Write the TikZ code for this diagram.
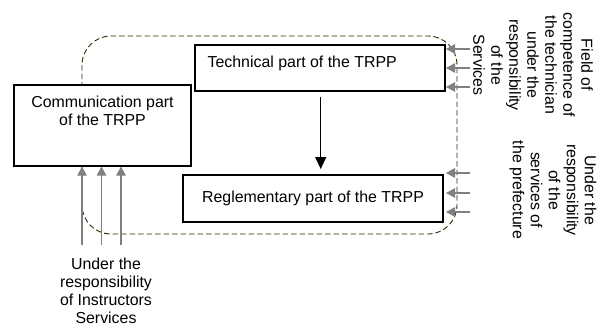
\documentclass[tikz,border=0pt]{standalone}
\usepackage{fontspec}
\setmainfont{Liberation Sans}
\usetikzlibrary{arrows.meta}
\definecolor{dashol}{RGB}{45,45,0}
\definecolor{arrgray}{RGB}{128,128,128}
\tikzset{
  partbox/.style={draw=black, line width=1.1pt, fill=white, inner sep=0pt},
  txt/.style={inner sep=0pt, align=center, font=\fontsize{15.9}{18}\selectfont},
  grayarrow/.style={draw=arrgray, line width=1.1pt, -{Triangle[length=9pt,width=9.5pt]}},
  blackarrow/.style={draw=black, line width=1.3pt, -{Triangle[length=12pt,width=11pt]}},
  envelope/.style={draw=dashol, line width=0.9pt, dash pattern=on 5.5pt off 3pt, rounded corners=29pt}
}
\begin{document}
\begin{tikzpicture}[x=1pt,y=-1pt]
\useasboundingbox (0,0) rectangle (605,327);
% dashed envelope
\draw[envelope] (82,36) rectangle (457,234);
% boxes
\node[partbox, minimum width=177pt, minimum height=81pt] (comm) at (102.5,125.5) {};
\node[txt, anchor=north] (commtxt) at ([yshift=-11pt]comm.north) {Communication part\\of the TRPP};
\node[partbox, minimum width=250pt, minimum height=46pt] (tech) at (320,68) {};
\node[txt, anchor=north west] (techtxt) at ([xshift=13pt,yshift=-11pt]tech.north west) {Technical part of the TRPP};
\node[partbox, minimum width=260pt, minimum height=47pt, txt] (regl) at (313,198.5) {Reglementary part of the TRPP};
% vertical arrow
\coordinate (a1) at (320.7,97);
\coordinate (a2) at (320.7,169);
\draw[blackarrow] (a1) -- (a2);
% right labels
\node[txt, rotate=-90] (fieldlbl) at (533,65) {Field of\\competence of\\the technician\\under the\\responsibility\\of the\\Services};
\node[txt, rotate=-90] (preflbl) at (553,190) {Under the\\responsibility\\of the\\services of\\the prefecture};
% bottom label
\node[txt] (instlbl) at (106,291) {Under the\\responsibility\\of Instructors\\Services};
% gray arrows into technical
\foreach \y [count=\i] in {49,68,87}{
  \coordinate (ts\i) at (470,\y);
  \coordinate (te\i) at (446,\y);
  \draw[grayarrow] (ts\i) -- (te\i);
}
% gray arrows into reglementary
\foreach \y [count=\i] in {173,193,212}{
  \coordinate (rs\i) at (470,\y);
  \coordinate (re\i) at (446,\y);
  \draw[grayarrow] (rs\i) -- (re\i);
}
% gray arrows into communication
\foreach \x [count=\i] in {82,101.5,121}{
  \coordinate (bs\i) at (\x,245);
  \draw[grayarrow] (bs\i) -- (bs\i |- comm.south);
}
\end{tikzpicture}
\end{document}
